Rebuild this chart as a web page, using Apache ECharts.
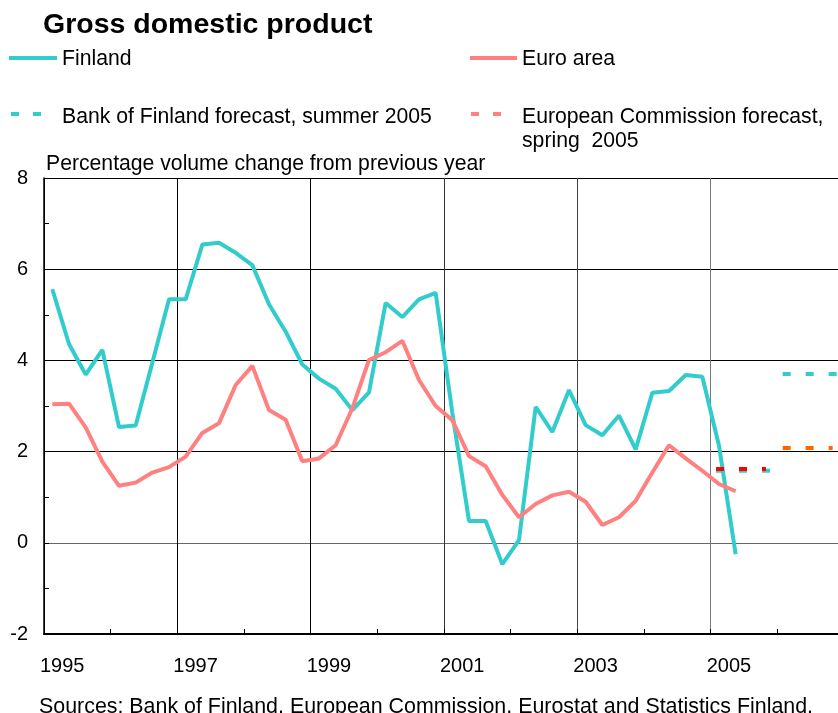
<!DOCTYPE html>
<html>
<head>
<meta charset="utf-8">
<script src="https://cdn.jsdelivr.net/npm/echarts@6/dist/echarts.min.js"></script>
<style>
html,body{margin:0;padding:0;background:#fff;}
#chart{width:838px;height:713px;}
</style>
</head>
<body>
<div id="chart"></div>
<script>
// Quarterly data, starting 1995 Q1 (percentage volume change from previous year)
var startYear = 1995;
var finland = [5.56, 4.36, 3.69, 4.23, 2.54, 2.57, 3.95, 5.34,
               5.34, 6.54, 6.58, 6.36, 6.09, 5.23, 4.63, 3.91,
               3.60, 3.38, 2.91, 3.30, 5.26, 4.95, 5.34, 5.48,
               2.85, 0.48, 0.48, -0.47, 0.06, 2.98, 2.43, 3.35,
               2.58, 2.36, 2.79, 2.05, 3.29, 3.33, 3.68, 3.64,
               2.13, -0.25];
var euroArea = [3.04, 3.05, 2.53, 1.78, 1.25, 1.32, 1.54, 1.66,
                1.89, 2.41, 2.62, 3.46, 3.88, 2.91, 2.70, 1.79,
                1.85, 2.14, 2.95, 4.01, 4.18, 4.43, 3.57, 3.00,
                2.69, 1.90, 1.68, 1.05, 0.56, 0.85, 1.04, 1.12,
                0.90, 0.39, 0.56, 0.92, 1.54, 2.14, 1.85, 1.58,
                1.29, 1.13];
// Annual forecasts
var forecastYears = [2005, 2006];
var bofForecast = [1.58, 3.70];   // Bank of Finland, summer 2005
var ecForecast = [1.62, 2.08];    // European Commission, spring 2005
// Axis ticks
var yTicks = [-2, 0, 2, 4, 6, 8];
var xLabelYears = [1995, 1997, 1999, 2001, 2003, 2005];

var FONT = '"Liberation Sans", Arial, Helvetica, sans-serif';
var CYAN = '#33CCCC', SALMON = '#FF8080', RED = '#FF0000', ORANGE = '#FF6600';

function quarterly(arr) {
  return arr.map(function (v, i) { return [startYear + (i + 0.5) / 4, v]; });
}
function segment(year, v, s, e) { return [[year + s, v], [year + e, v]]; }

var xMin = 1995, xMax = 2006.91;

var series = [
  { name: 'Finland', type: 'line', xAxisIndex: 0, data: quarterly(finland), symbol: 'none',
    lineStyle: { color: CYAN, width: 4 }, z: 3 },
  { name: 'Euro area', type: 'line', xAxisIndex: 0, data: quarterly(euroArea), symbol: 'none',
    lineStyle: { color: SALMON, width: 4 }, z: 4 }
];
forecastYears.forEach(function (yr, i) {
  series.push({ type: 'line', xAxisIndex: 0, data: segment(yr, bofForecast[i], 0.08, 0.89 + (i === 1 ? 0.1 : 0)),
    symbol: 'none', lineStyle: { color: CYAN, width: 4, type: [8, 15], cap: 'butt' }, z: 5 });
});
forecastYears.forEach(function (yr, i) {
  series.push({ type: 'line', xAxisIndex: 0, data: segment(yr, ecForecast[i], 0.08, 0.83),
    symbol: 'none', lineStyle: { color: i === 0 ? RED : ORANGE, width: 4, type: [8, 15], cap: 'butt' }, z: 6 });
});

var chart = echarts.init(document.getElementById('chart'), null, { renderer: 'canvas' });

function txt(x, y, s, size, bold) {
  return { type: 'text', left: x, top: y - size / 2, style: { text: s, fill: '#000',
    font: (bold ? 'bold ' : '') + size + 'px ' + FONT } };
}
function hline(x1, x2, y, color, dash) {
  return { type: 'line', shape: { x1: x1, y1: y, x2: x2, y2: y },
    style: { stroke: color, lineWidth: 4, lineDash: dash || null, lineCap: 'butt' } };
}

chart.setOption({
  animation: false,
  grid: { left: 44, right: 0, top: 178, bottom: 79, containLabel: false },
  xAxis: [
    { type: 'value', min: xMin, max: xMax, interval: 1, position: 'bottom',
      axisLine: { show: true, onZero: false, lineStyle: { color: '#000', width: 2 } },
      axisTick: { show: true, inside: true, length: 5, lineStyle: { color: '#000', width: 1 } },
      axisLabel: { show: false }, splitLine: { show: false } },
    { type: 'value', min: xMin, max: xMax, interval: 2, position: 'bottom',
      axisLine: { show: false, onZero: false }, axisTick: { show: false },
      splitLine: { show: true, lineStyle: { color: ['#000', '#000', '#000', '#333', '#444', '#777', '#fff'], width: 1 } },
      axisLabel: { show: true, showMaxLabel: false, align: 'left', margin: 22, padding: [0, 0, 0, -4],
        color: '#000', fontSize: 20, fontFamily: FONT,
        formatter: function (v) { return xLabelYears.indexOf(Math.round(v)) >= 0 && Math.abs(v - Math.round(v)) < 1e-6 ? String(Math.round(v)) : ''; } } }
  ],
  yAxis: { type: 'value', min: yTicks[0], max: yTicks[yTicks.length - 1], interval: 2,
    axisLine: { show: true, onZero: false, lineStyle: { color: '#000', width: 1.5 } },
    axisTick: { show: true, inside: true, length: 5, lineStyle: { color: '#000' } },
    minorTick: { show: true, splitNumber: 2, length: 5, lineStyle: { color: '#000', width: 1 } },
    splitLine: { show: true, lineStyle: { color: ['#000', '#666', '#000', '#000', '#000', '#000'], width: 1 } },
    axisLabel: { margin: 16, color: '#000', fontSize: 20, fontFamily: FONT } },
  series: series,
  graphic: [
    txt(43, 25, 'Gross domestic product', 28.5, true),
    hline(9, 57, 58, CYAN),
    txt(62, 59, 'Finland', 21.2),
    hline(470, 517, 58, SALMON),
    txt(522, 59, 'Euro area', 21.2),
    hline(11, 42, 114, CYAN, [8, 14]),
    txt(62, 117, 'Bank of Finland forecast, summer 2005', 21.2),
    hline(471, 502, 114, SALMON, [8, 14]),
    txt(522, 117, 'European Commission forecast,', 21.2),
    txt(522, 141, 'spring  2005', 21.2),
    txt(46, 164, 'Percentage volume change from previous year', 21.2),
    txt(39, 707, 'Sources: Bank of Finland, European Commission, Eurostat and Statistics Finland.', 21.4)
  ]
});
</script>
</body>
</html>
